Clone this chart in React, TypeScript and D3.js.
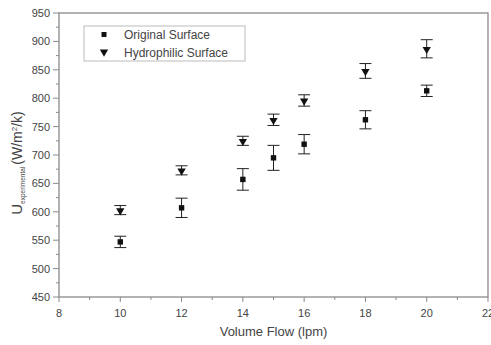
import React from 'react';
import * as d3 from 'd3';

const flows = [10, 12, 14, 15, 16, 18, 20];
const originalU = [547, 607, 657, 695, 719, 762, 813];
const originalErr = [10, 17, 19, 22, 17, 16, 10];
const hydrophilicU = [603, 673, 725, 762, 796, 848, 887];
const hydrophilicErr = [8, 8, 8, 10, 10, 13, 16];
const xTicks = [8, 10, 12, 14, 16, 18, 20, 22];
const yTicks = [450, 500, 550, 600, 650, 700, 750, 800, 850, 900, 950];

const W = 491;
const H = 345;
const margin = { top: 13, right: 3, bottom: 48, left: 59 };
const axisColor = '#8a8a8a';
const textColor = '#444';
const font = 'Arial, "Liberation Sans", sans-serif';

export default function App() {
  const x = d3.scaleLinear().domain([8, 22]).range([margin.left, W - margin.right]);
  const y = d3.scaleLinear().domain([450, 950]).range([H - margin.bottom, margin.top]);

  const x0 = x.range()[0], x1 = x.range()[1];
  const y0 = y.range()[0], y1 = y.range()[1];

  const minorX = d3.range(9, 22, 2);
  const minorY = d3.range(475, 950, 50);

  const tri = d3.symbol().type(d3.symbolTriangle).size(30)();

  const errBar = (xv: number, v: number, e: number, key: string) => (
    <g key={key} stroke="#222" strokeWidth={1}>
      <line x1={x(xv)} x2={x(xv)} y1={y(v + e)} y2={y(v - e)} />
      <line x1={x(xv) - 6} x2={x(xv) + 6} y1={y(v + e)} y2={y(v + e)} />
      <line x1={x(xv) - 6} x2={x(xv) + 6} y1={y(v - e)} y2={y(v - e)} />
    </g>
  );

  return (
    <svg width={W} height={H} style={{ position: 'absolute', left: 0, top: 0, background: '#fff' }}>
      <rect x={x0} y={y1} width={x1 - x0} height={y0 - y1} fill="none" stroke={axisColor} strokeWidth={1.3} />

      {xTicks.map(t => (
        <g key={'xt' + t}>
          <line x1={x(t)} x2={x(t)} y1={y0} y2={y0 + 5} stroke={axisColor} />
          <text x={x(t)} y={y0 + 20} textAnchor="middle" fontSize={11} fill={textColor} fontFamily={font}>{t}</text>
        </g>
      ))}
      {minorX.map(t => (
        <line key={'xm' + t} x1={x(t)} x2={x(t)} y1={y0} y2={y0 + 3} stroke={axisColor} />
      ))}
      {yTicks.map(t => (
        <g key={'yt' + t}>
          <line x1={x0} x2={x0 - 6} y1={y(t)} y2={y(t)} stroke={axisColor} />
          <text x={x0 - 9} y={y(t) + 4} textAnchor="end" fontSize={11} fill={textColor} fontFamily={font}>{t}</text>
        </g>
      ))}
      {minorY.map(t => (
        <line key={'ym' + t} x1={x0} x2={x0 - 3} y1={y(t)} y2={y(t)} stroke={axisColor} />
      ))}

      {flows.map((f, i) => errBar(f, originalU[i], originalErr[i], 'eo' + i))}
      {flows.map((f, i) => errBar(f, hydrophilicU[i], hydrophilicErr[i], 'eh' + i))}
      {flows.map((f, i) => (
        <rect key={'so' + i} x={x(f) - 2.7} y={y(originalU[i]) - 2.7} width={5.4} height={5.4} fill="#111" />
      ))}
      {flows.map((f, i) => (
        <path key={'sh' + i} d={tri} transform={`translate(${x(f)},${y(hydrophilicU[i]) + 0.5}) rotate(180)`} fill="#111" />
      ))}

      <g>
        <rect x={84} y={26} width={161} height={35} fill="#fff" stroke="#bbb" strokeWidth={1} />
        <rect x={101.5} y={32} width={5} height={5} fill="#111" />
        <path d={tri} transform="translate(104,52) rotate(180)" fill="#111" />
        <text x={124} y={39} fontSize={12} fill={textColor} fontFamily={font}>Original Surface</text>
        <text x={124} y={56.5} fontSize={12} fill={textColor} fontFamily={font}>Hydrophilic Surface</text>
      </g>

      <text x={(x0 + x1) / 2} y={336} textAnchor="middle" fontSize={13} fill={textColor} fontFamily={font}>Volume Flow (lpm)</text>

      <text transform="translate(22,163) rotate(-90)" textAnchor="middle" fontFamily={font} fill={textColor}>
        <tspan fontSize={15}>U</tspan>
        <tspan fontSize={6.5} dy={3}>experimental</tspan>
        <tspan fontSize={14} dy={-3} dx={2}>(W/m</tspan>
        <tspan fontSize={8} dy={-5}>2</tspan>
        <tspan fontSize={14} dy={5}>/k)</tspan>
      </text>
    </svg>
  );
}
